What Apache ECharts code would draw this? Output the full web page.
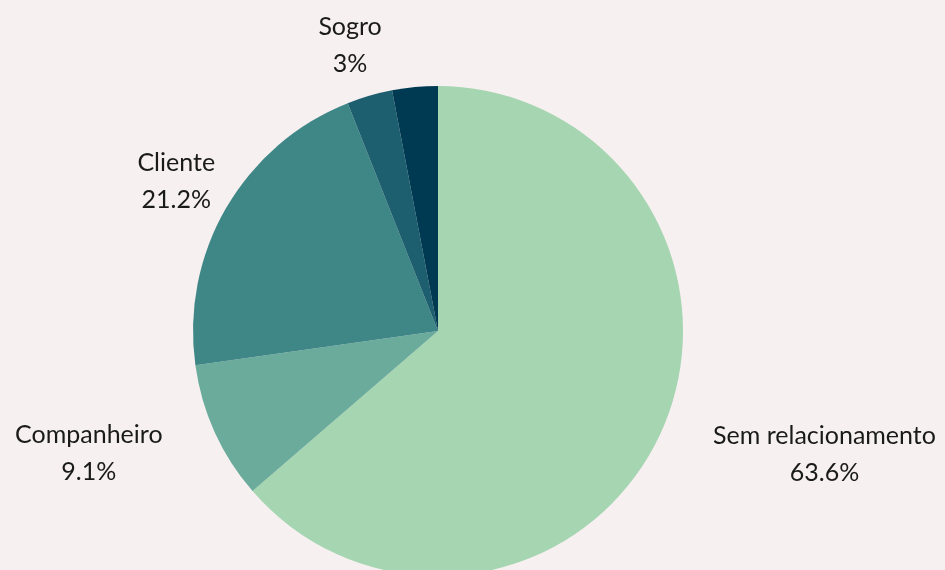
<!DOCTYPE html>
<html>
<head>
<meta charset="utf-8">
<style>
    html, body { margin: 0; padding: 0; background: #f6f0f0; }
    #chart { width: 945px; height: 570px; }
</style>
<script src="https://cdn.jsdelivr.net/npm/echarts@6/dist/echarts.min.js"></script>
</head>
<body>
<div id="chart"></div>
<script>
    // categorias e percentuais
    var categorias = ['Sem relacionamento', 'Companheiro', 'Cliente', 'Sogro', 'Outro'];
    var percentuais = [63.6, 9.1, 21.2, 3, 3];
    var cores = ['#a5d5b1', '#6aab9c', '#3f8686', '#1d5f6e', '#003a52'];
    var mostrarRotulo = [true, true, true, true, false];

    var total = percentuais.reduce(function (a, b) { return a + b; }, 0);

    // ângulo médio de cada fatia (a partir do topo, sentido horário)
    function anguloMedio(idx) {
        var acum = 0;
        for (var i = 0; i < idx; i++) acum += percentuais[i];
        return (acum + percentuais[idx] / 2) / total * Math.PI * 2;
    }

    var dados = categorias.map(function (nome, i) {
        return {
            name: nome,
            value: percentuais[i],
            itemStyle: { color: cores[i] },
            label: { show: mostrarRotulo[i] }
        };
    });

    var chart = echarts.init(document.getElementById('chart'));
    var option = {
        backgroundColor: '#f6f0f0',
        animation: false,
        series: [{
            type: 'pie',
            center: [438, 331],
            radius: 245,
            startAngle: 90,
            clockwise: true,
            avoidLabelOverlap: false,
            data: dados,
            label: {
                position: 'outside',
                formatter: '{n|{b}}\n{n|{c}%}',
                rich: {
                    n: {
                        align: 'center',
                        fontFamily: 'Lato',
                        fontSize: 25,
                        lineHeight: 37,
                        color: '#1a1a1a'
                    }
                }
            },
            labelLine: { show: false, length: 52, length2: 0 },
            labelLayout: function (params) {
                // rótulos na parte de cima ficam centralizados
                if (Math.cos(anguloMedio(params.dataIndex)) > 0) {
                    return { align: 'center' };
                }
                return {};
            },
            emphasis: { disabled: true }
        }]
    };
    chart.setOption(option);
</script>
</body>
</html>
